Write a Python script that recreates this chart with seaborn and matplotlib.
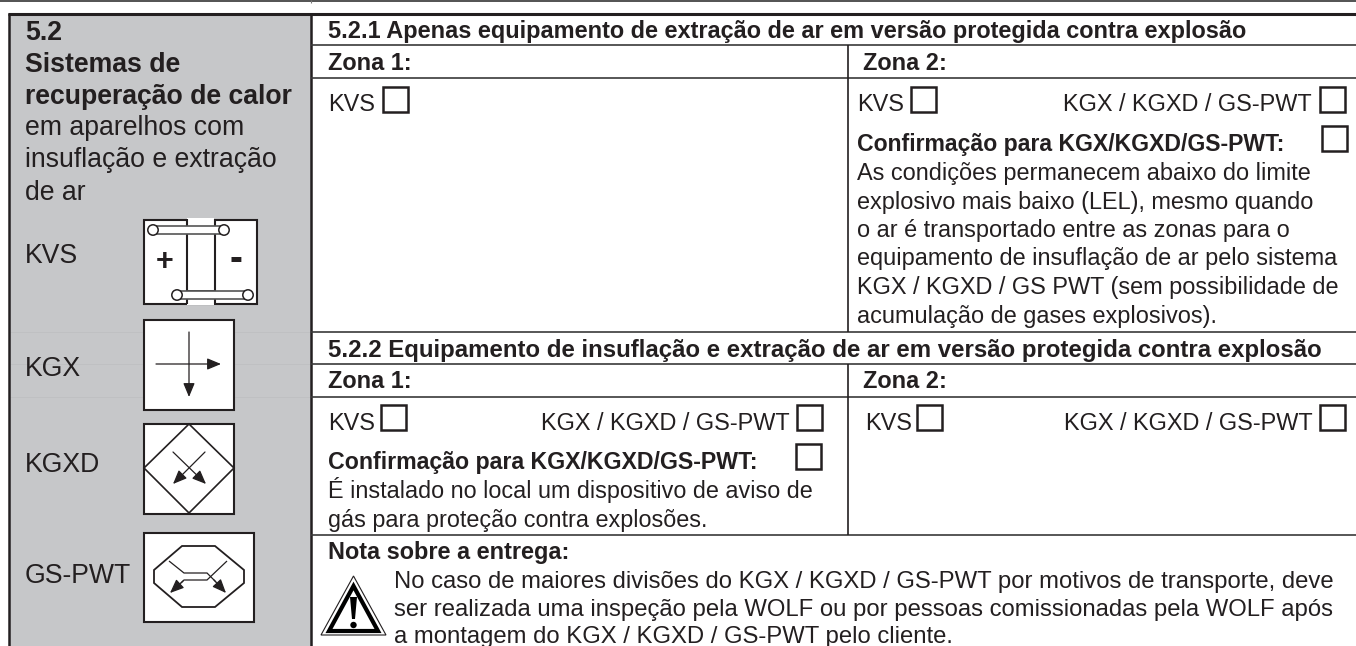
import matplotlib
matplotlib.use("Agg")
import matplotlib.pyplot as plt
from matplotlib.patches import Rectangle, Polygon, Circle
import seaborn as sns

sns.set_theme(style="white")
plt.rcParams['font.family'] = ['Liberation Sans', 'DejaVu Sans']

INK = "#231f20"
GRAY = "#c6c7c9"
FS = 16.9
LFS = 19.2

fig = plt.figure(figsize=(13.56, 6.46), dpi=100)
ax = fig.add_axes([0, 0, 1, 1])
ax.set_xlim(0, 1356)
ax.set_ylim(646, 0)
ax.axis("off")

def line(xs, ys, lw=1.5, color=INK, z=3):
    ax.plot(xs, ys, color=color, lw=lw, solid_capstyle="butt", solid_joinstyle="miter", zorder=z)

def txt(x, y, s, bold=False, size=FS, ha="left"):
    ax.text(x, y, s, fontsize=size, fontweight="bold" if bold else "normal",
            color=INK, ha=ha, va="baseline", zorder=5)

def box(x0, y0, x1, y1, lw=1.5, fc="white", ec=INK):
    ax.add_patch(Rectangle((x0, y0), x1 - x0, y1 - y0, fc=fc, ec=ec, lw=lw, zorder=4))

def check(x, y):
    box(x, y, x + 25, y + 25, lw=1.8)

def arrow(x0, y0, x1, y1, lw=0.9):
    ax.annotate("", xy=(x1, y1), xytext=(x0, y0), zorder=6,
                arrowprops=dict(arrowstyle="-|>,head_width=0.25,head_length=0.6",
                                lw=lw, color=INK, shrinkA=0, shrinkB=0, mutation_scale=14))

# frame
ax.add_patch(Rectangle((9, 14), 302, 640, fc=GRAY, ec="none", zorder=1))
line([0, 1356], [1, 1], lw=1.3, color="#444444")
line([311, 311], [0, 3], lw=0.8, color="#777777")
line([8, 1356], [13.5, 13.5], lw=2.2)
line([9, 9], [13, 646], lw=1.8)
line([311, 311], [13, 646], lw=1.8)
for y in [332, 364, 397]:
    line([9, 311], [y, y], lw=0.5, color="#bcbdbf", z=2)
for y in [45, 78, 332, 364, 397, 535]:
    line([311, 1356], [y, y], lw=1.2, color="#3a3a3a")
line([848, 848], [45, 332], lw=1.2)
line([848, 848], [364, 535], lw=1.2)

# left column
left_bold = [("5.2", 40), ("Sistemas de", 72), ("recuperação de calor", 104)]
left_norm = [("em aparelhos com", 135), ("insuflação e extração", 167), ("de ar", 200)]
for s, y in left_bold:
    txt(25, y, s, bold=True, size=LFS)
for s, y in left_norm:
    txt(25, y, s, size=LFS)
icon_labels = [("KVS", 263), ("KGX", 376), ("KGXD", 472), ("GS-PWT", 583)]
for s, y in icon_labels:
    txt(25, y, s, size=LFS)

# KVS icon
box(143.5, 219.5, 257, 304)
ax.add_patch(Rectangle((187, 218), 27, 8, fc="white", ec="none", zorder=5))
ax.add_patch(Rectangle((187, 298), 27, 7, fc="white", ec="none", zorder=5))
line([186.5, 186.5], [219, 304], z=6)
line([214.5, 214.5], [219, 304], z=6)
line([186.5, 214.5], [227, 227], lw=1.2, z=6)
line([186.5, 214.5], [291, 291], lw=1.2, z=6)
for (a, b, y) in [(153, 224, 230), (177, 248, 295)]:
    ax.add_patch(Rectangle((a, y - 4), b - a, 8, fc="white", ec="#555555", lw=1.2, zorder=7))
    ax.add_patch(Circle((a, y), 5.2, fc="white", ec=INK, lw=1.1, zorder=8))
    ax.add_patch(Circle((b, y), 5.2, fc="white", ec=INK, lw=1.1, zorder=8))
txt(165, 270, "+", bold=True, size=22, ha="center")
txt(236, 270, "-", bold=True, size=28, ha="center")

# KGX icon
box(143.5, 319.5, 234, 410)
arrow(156, 364, 221, 364)
arrow(189, 332, 189, 397)

# KGXD icon
box(143.5, 423.5, 234, 514)
ax.add_patch(Polygon([(189, 424), (234, 468), (189, 513), (144, 468)], fc="white", ec=INK, lw=1.2, zorder=5))
arrow(173, 452, 206, 484)
arrow(205, 452, 173, 484)

# GS-PWT icon
box(143.5, 532.5, 254, 622)
ax.add_patch(Polygon([(182, 546), (215, 546), (244, 570), (244, 583), (215, 607), (182, 607), (154, 583), (154, 570)],
                     fc="white", ec=INK, lw=1.3, zorder=5))
line([169, 184, 207, 216], [561, 573, 573, 582], lw=0.9, z=6)
line([227, 207, 184, 181], [561, 580, 580, 583], lw=0.9, z=6)
arrow(214, 580, 226, 593)
arrow(183, 581, 170, 593)

# right tables
txt(328, 38, "5.2.1 Apenas equipamento de extração de ar em versão protegida contra explosão", bold=True)
txt(328, 70.5, "Zona 1:", bold=True)
txt(863, 70.5, "Zona 2:", bold=True)
txt(328, 111, "KVS")
check(383, 87)
txt(857, 111, "KVS")
check(911, 87)
txt(1063, 111, "KGX / KGXD / GS-PWT")
check(1320, 87)
txt(857, 151, "Confirmação para KGX/KGXD/GS-PWT:", bold=True, size=16.6)
check(1322, 126)
body1 = ["As condições permanecem abaixo do limite",
         "explosivo mais baixo (LEL), mesmo quando",
         "o ar é transportado entre as zonas para o",
         "equipamento de insuflação de ar pelo sistema",
         "KGX / KGXD / GS PWT (sem possibilidade de",
         "acumulação de gases explosivos)."]
for i, s in enumerate(body1):
    txt(857, 180 + i * 28.5, s)

txt(328, 356.5, "5.2.2 Equipamento de insuflação e extração de ar em versão protegida contra explosão", bold=True, size=17.27)
txt(328, 388.5, "Zona 1:", bold=True)
txt(863, 388.5, "Zona 2:", bold=True)
txt(328, 430, "KVS")
check(381, 405)
txt(541, 430, "KGX / KGXD / GS-PWT")
check(797, 405)
txt(865, 430, "KVS")
check(917, 405)
txt(1064, 430, "KGX / KGXD / GS-PWT")
check(1320, 405)
txt(328, 469, "Confirmação para KGX/KGXD/GS-PWT:", bold=True, size=16.7)
check(796, 444)
txt(328, 498, "É instalado no local um dispositivo de aviso de", size=16.8)
txt(328, 527, "gás para proteção contra explosões.", size=16.8)
txt(328, 559, "Nota sobre a entrega:", bold=True)
note = ["No caso de maiores divisões do KGX / KGXD / GS-PWT por motivos de transporte, deve",
        "ser realizada uma inspeção pela WOLF ou por pessoas comissionadas pela WOLF após",
        "a montagem do KGX / KGXD / GS-PWT pelo cliente."]
for i, (s, y) in enumerate(zip(note, [588, 616, 643])):
    txt(394, y, s, size=17.2)

# warning triangle
ax.add_patch(Polygon([(353.5, 576), (386, 635), (321, 635)], fc="white", ec=INK, lw=0.8, zorder=5))
ax.add_patch(Polygon([(353.5, 586), (378, 631), (329, 631)], fc="white", ec="black", lw=3, zorder=6))
ax.add_patch(Polygon([(350, 597), (357, 597), (355, 619), (352, 619)], fc="black", ec="none", zorder=7))
ax.add_patch(Circle((353.5, 625), 3.2, fc="black", ec="none", zorder=7))

fig.savefig("out.png", dpi=100)
